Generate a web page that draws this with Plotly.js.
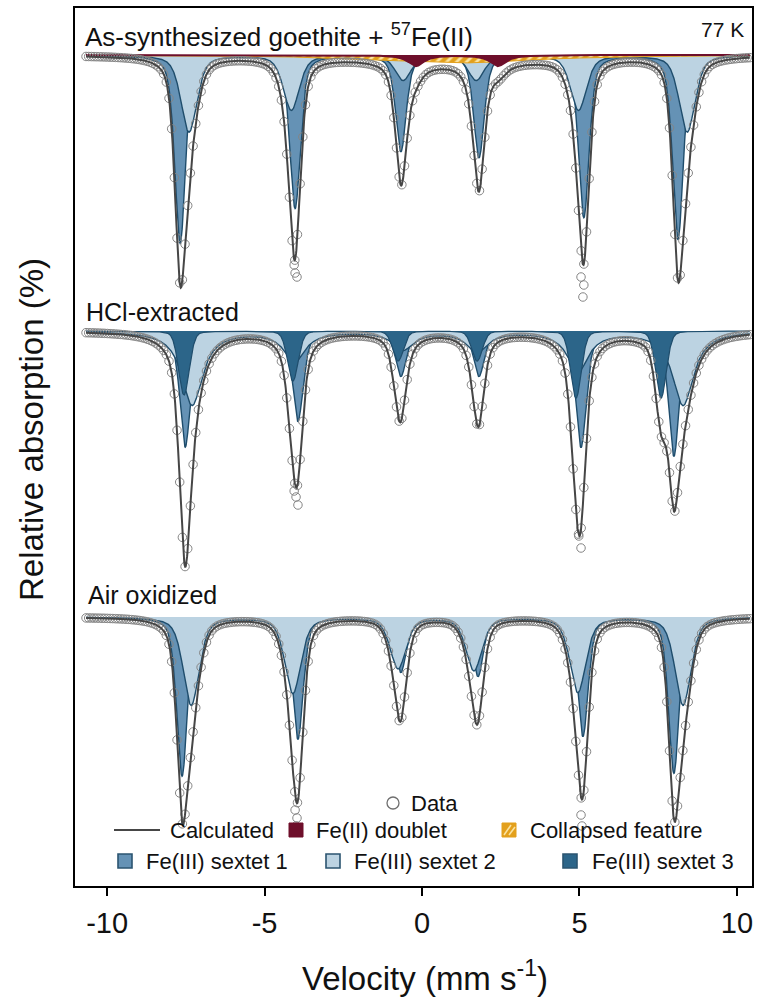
<!DOCTYPE html>
<html>
<head>
<meta charset="utf-8">
<script src="https://cdn.plot.ly/plotly-3.0.1.min.js"></script>
<style>
  html, body { margin: 0; padding: 0; background: #ffffff; }
  #chart { width: 764px; height: 1005px; }
</style>
</head>
<body>
<div id="chart"></div>
<script>
// ---------------- Data ----------------
// Velocity axis
const velocityRange = [-11.02, 10.48];
const tickVals = [-10, -5, 0, 5, 10];
const tickText = ['-10', '-5', '0', '5', '10'];

// Spectra, top to bottom, and their stacking offsets (% absorption)
const spectrumLabels = ['As-synthesized goethite + <sup>57</sup>Fe(II)', 'HCl-extracted', 'Air oxidized'];
const baselines = [0, -11.04, -22.48];

// Fe(III) sextet 1: line positions (mm/s), line depths (%), half width (mm/s),
// Lorentzian fraction of the pseudo-Voigt line shape
const sextet1Pos = [
  [-7.68, -4.03, -0.67, 1.81, 5.14, 8.13],
  [-7.52, -3.94, -0.67, 1.81, 5.05, 8.00],
  [-7.62, -3.94, -0.67, 1.78, 5.11, 8.00]
];
const sextet1Depth = [
  [7.52, 6.12, 3.84, 4.08, 6.48, 7.36],
  [4.64, 3.60, 1.80, 1.80, 4.64, 5.00],
  [6.36, 4.88, 2.20, 2.36, 4.76, 6.24]
];
const sextet1Hwhm = [0.20, 0.20, 0.20];
const sextet1Eta = [0.5, 0.6, 0.5];

// Fe(III) sextet 2
const sextet2Pos = [
  [-7.40, -4.15, -0.60, 1.72, 4.97, 8.42],
  [-7.30, -4.05, -0.60, 1.75, 4.95, 8.29],
  [-7.33, -4.10, -0.76, 1.65, 4.95, 8.29]
];
const sextet2Depth = [
  [3.08, 2.20, 1.00, 1.00, 2.20, 3.08],
  [2.96, 1.20, 0.72, 0.80, 1.60, 2.96],
  [3.52, 3.04, 2.04, 2.12, 3.00, 3.52]
];
const sextet2Hwhm = [0.30, 0.40, 0.30];
const sextet2Eta = [0.5, 1.0, 0.5];

// Fe(III) sextet 3 (HCl-extracted sample only)
const sextet3Pos = [null, [-7.56, -4.10, -0.76, 1.75, 4.89, 7.59], null];
const sextet3Depth = [null, [2.56, 2.00, 1.20, 1.20, 2.68, 2.68], null];
const sextet3Hwhm = [null, 0.20, null];
const sextet3Eta = [null, 0.2, null];

// Fe(II) doublet and collapsed feature (as-synthesized sample only)
const doubletPos = [-0.19, 2.41];
const doubletDepth = [0.44, 0.44];
const doubletHwhm = 0.30;
const collapsedPos = [1.10];
const collapsedDepth = [0.32];
const collapsedHwhm = 3.0;

// Measured channels
const channelStart = -10.67;
const channelStep = 0.085;
const channelCount = 249;
// Channels lying below the fitted envelope at the line minima
const tipPointV = [
  [-4.06, -4.03, -3.97, 5.05, 5.14, 5.11],
  [-4.06, -4.00, -3.94, 4.98, 5.05],
  [-4.03, -3.97, -4.00, 5.05, 5.08]
];
const tipPointDepth = [
  [8.40, 8.72, 8.88, 8.88, 9.20, 9.68],
  [6.40, 6.64, 6.96, 8.20, 8.68],
  [7.72, 8.04, 8.36, 7.92, 8.36]
];

// ---------------- Geometry & style ----------------
const PLOT = { left: 75, right: 752, top: 8, bottom: 886 };
const PX_PER_PCT = 25;
const yTop = (55 - PLOT.top) / PX_PER_PCT;
const yRange = [yTop - (PLOT.bottom - PLOT.top) / PX_PER_PCT, yTop];
const pxX = p => (p - PLOT.left) / (PLOT.right - PLOT.left);
const pxY = p => (PLOT.bottom - p) / (PLOT.bottom - PLOT.top);

const FONT = 'Liberation Sans, Arial, Helvetica, sans-serif';
const COL = {
  s1: '#6592b5', s2: '#bcd3e2', s3: '#2c6589', outline: '#1f4d6c',
  doublet: '#6e0f2b', collapsed: '#e3a01c', collapsedStripe: '#fbe3a0',
  calc: '#464646', data: '#858585'
};

// ---------------- Model ----------------
// Sum of pseudo-Voigt lines (eta = Lorentzian fraction, w = half width at half maximum)
function lineSum(v, pos, depth, w, eta) {
  let s = 0;
  for (let i = 0; i < pos.length; i++) {
    const u = (v - pos[i]) / w;
    s += depth[i] * (eta / (1 + u * u) + (1 - eta) * Math.exp(-Math.LN2 * u * u));
  }
  return s;
}

const channelEnd = channelStart + (channelCount - 1) * channelStep;
const curveV = [];
for (let i = 0; channelStart + i * 0.01 <= channelEnd + 1e-9; i++) curveV.push(+(channelStart + i * 0.01).toFixed(3));
const channels = [];
for (let i = 0; i < channelCount; i++) channels.push(+(channelStart + i * channelStep).toFixed(4));

const traces = [];
baselines.forEach((b, k) => {
  // drawing order: sextet 1, sextet 2, sextet 3, collapsed feature, doublet
  const comps = [];
  comps.push({ pos: sextet1Pos[k], depth: sextet1Depth[k], w: sextet1Hwhm[k], eta: sextet1Eta[k], fill: COL.s1, line: COL.outline, lw: 1.4 });
  comps.push({ pos: sextet2Pos[k], depth: sextet2Depth[k], w: sextet2Hwhm[k], eta: sextet2Eta[k], fill: COL.s2, line: COL.outline, lw: 1.4 });
  if (sextet3Pos[k]) comps.push({ pos: sextet3Pos[k], depth: sextet3Depth[k], w: sextet3Hwhm[k], eta: sextet3Eta[k], fill: COL.s3, line: COL.outline, lw: 1.2 });
  if (k === 0) {
    comps.push({ pos: collapsedPos, depth: collapsedDepth, w: collapsedHwhm, eta: 1, fill: COL.collapsed, line: COL.collapsed, lw: 1,
      pattern: { shape: '/', bgcolor: COL.collapsed, fgcolor: COL.collapsedStripe, size: 7, solidity: 0.4 } });
    comps.push({ pos: doubletPos, depth: doubletDepth, w: doubletHwhm, eta: 1, fill: COL.doublet, line: COL.doublet, lw: 2 });
  }
  comps.forEach(c => {
    traces.push({ x: curveV, y: curveV.map(() => b), mode: 'lines', line: { width: 0 }, hoverinfo: 'skip', showlegend: false });
    const t = {
      x: curveV, y: curveV.map(v => b - lineSum(v, c.pos, c.depth, c.w, c.eta)),
      mode: 'lines', fill: 'tonexty', fillcolor: c.fill,
      line: { color: c.line, width: c.lw }, hoverinfo: 'skip', showlegend: false
    };
    if (c.pattern) t.fillpattern = c.pattern;
    traces.push(t);
  });
  const total = v => comps.reduce((s, c) => s + lineSum(v, c.pos, c.depth, c.w, c.eta), 0);
  const dx = channels.slice();
  const dy = channels.map(v => b - total(v));
  tipPointV[k].forEach((v, i) => { dx.push(v); dy.push(b - tipPointDepth[k][i]); });
  traces.push({ x: dx, y: dy, mode: 'markers', hoverinfo: 'skip', showlegend: false,
    marker: { symbol: 'circle-open', size: 8.5, color: COL.data, line: { width: 1 } } });
  traces.push({ x: curveV, y: curveV.map(v => b - total(v)), mode: 'lines', hoverinfo: 'skip', showlegend: false,
    line: { color: COL.calc, width: 2 } });
});

// ---------------- Text ----------------
const annotations = [
  { text: spectrumLabels[0], x: pxX(83), y: pxY(36), xanchor: 'left', yanchor: 'middle', font: { size: 26 } },
  { text: '77 K', x: pxX(746), y: pxY(30), xanchor: 'right', yanchor: 'middle', font: { size: 21 } },
  { text: spectrumLabels[1], x: pxX(84), y: pxY(312), xanchor: 'left', yanchor: 'middle', font: { size: 25 } },
  { text: spectrumLabels[2], x: pxX(86), y: pxY(595), xanchor: 'left', yanchor: 'middle', font: { size: 25 } },
  { text: 'Relative absorption (%)', x: pxX(32), y: pxY(430), textangle: -90, xanchor: 'center', yanchor: 'middle', font: { size: 33 } },
  { text: 'Velocity (mm s<sup>-1</sup>)', x: pxX(425), y: pxY(976), xanchor: 'center', yanchor: 'middle', font: { size: 33 } },
  // legend labels
  { text: 'Data', x: pxX(409), y: pxY(803), xanchor: 'left', yanchor: 'middle', font: { size: 22 } },
  { text: 'Calculated', x: pxX(168), y: pxY(830), xanchor: 'left', yanchor: 'middle', font: { size: 22 } },
  { text: 'Fe(II) doublet', x: pxX(314), y: pxY(830), xanchor: 'left', yanchor: 'middle', font: { size: 22 } },
  { text: 'Collapsed feature', x: pxX(528), y: pxY(830), xanchor: 'left', yanchor: 'middle', font: { size: 22 } },
  { text: 'Fe(III) sextet 1', x: pxX(144), y: pxY(861), xanchor: 'left', yanchor: 'middle', font: { size: 22 } },
  { text: 'Fe(III) sextet 2', x: pxX(352), y: pxY(861), xanchor: 'left', yanchor: 'middle', font: { size: 22 } },
  { text: 'Fe(III) sextet 3', x: pxX(590), y: pxY(861), xanchor: 'left', yanchor: 'middle', font: { size: 22 } }
].map(a => Object.assign({ xref: 'paper', yref: 'paper', showarrow: false }, a,
  { font: Object.assign({ family: FONT, color: '#111111' }, a.font) }));

// ---------------- Legend symbols ----------------
const rectPx = (x0, y0, x1, y1, fill, line, lw) => ({
  type: 'rect', xref: 'paper', yref: 'paper', x0: pxX(x0), x1: pxX(x1), y0: pxY(y1), y1: pxY(y0),
  fillcolor: fill, line: { color: line, width: lw }
});
const linePx = (x0, y0, x1, y1, color, w) => ({
  type: 'line', xref: 'paper', yref: 'paper', x0: pxX(x0), x1: pxX(x1), y0: pxY(y0), y1: pxY(y1),
  line: { color: color, width: w }
});
const shapes = [
  { type: 'circle', xref: 'paper', yref: 'paper', x0: pxX(387), x1: pxX(399), y0: pxY(809), y1: pxY(797),
    line: { color: '#6f6f6f', width: 1.3 }, fillcolor: 'rgba(0,0,0,0)' },
  linePx(114, 830, 160, 830, COL.calc, 2),
  rectPx(289, 823, 303, 837, COL.doublet, COL.doublet, 1),
  rectPx(502, 823, 516, 837, COL.collapsed, COL.collapsed, 1),
  linePx(504, 835, 511, 825, COL.collapsedStripe, 1.6),
  linePx(509, 835, 515, 827, COL.collapsedStripe, 1.6),
  rectPx(118, 854, 132, 868, COL.s1, '#2b5470', 1.6),
  rectPx(326, 854, 340, 868, COL.s2, '#2b5470', 1.6),
  rectPx(563, 854, 577, 868, COL.s3, '#2b5470', 1.6)
];

const layout = {
  width: 764, height: 1005,
  margin: { l: PLOT.left, r: 764 - PLOT.right, t: PLOT.top, b: 1005 - PLOT.bottom },
  paper_bgcolor: '#ffffff', plot_bgcolor: '#ffffff',
  showlegend: false,
  font: { family: FONT, color: '#111111' },
  xaxis: {
    range: velocityRange, tickmode: 'array', tickvals: tickVals, ticktext: tickText,
    ticks: 'outside', ticklen: 8, tickwidth: 2, tickcolor: '#000000',
    showline: true, linewidth: 2, linecolor: '#000000', mirror: true,
    showgrid: false, zeroline: false, ticklabelstandoff: 2,
    tickfont: { size: 29, family: FONT, color: '#111111' }
  },
  yaxis: {
    range: yRange, showticklabels: false, ticks: '',
    showline: true, linewidth: 2, linecolor: '#000000', mirror: true,
    showgrid: false, zeroline: false
  },
  annotations: annotations,
  shapes: shapes
};

Plotly.newPlot('chart', traces, layout, { staticPlot: true, displayModeBar: false });
</script>
</body>
</html>
